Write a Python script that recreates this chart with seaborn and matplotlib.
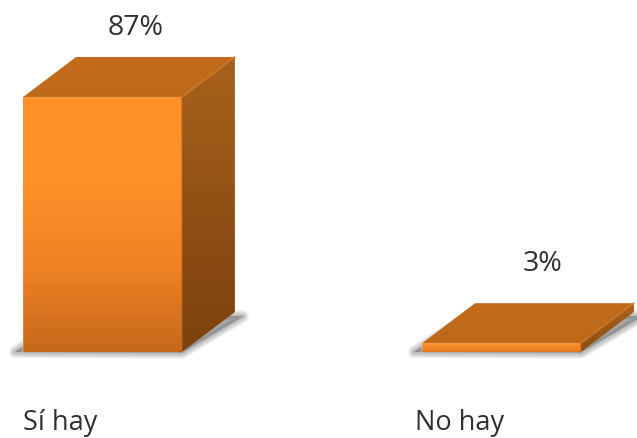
import numpy as np
import pandas as pd
import seaborn as sns
import matplotlib
matplotlib.use("Agg")
import matplotlib.pyplot as plt
from matplotlib.colors import LinearSegmentedColormap as LSC
from matplotlib.patches import Polygon
from matplotlib.transforms import ScaledTranslation

categories = ["Sí hay", "No hay"]
values = [87, 3]

W, H = 637, 439
DPI = 100
sns.set_theme(style="white")
plt.rcParams["font.family"] = ["Open Sans", "DejaVu Sans"]

fig = plt.figure(figsize=(W / DPI, H / DPI), dpi=DPI)
ax = fig.add_axes([0, 86 / H, 1, 353 / H])
df = pd.DataFrame({"cat": categories, "val": values})
sns.barplot(data=df, x="cat", y="val", color="#F08424", width=0.398, ax=ax,
            saturation=1, errorbar=None)

px_x = 399.0          # pixels per category step
px_y = 255.0 / 87.0   # pixels per percent
ax.set_xlim(-102.5 / px_x, (W - 102.5) / px_x)
ax.set_ylim(0, 353 / px_y)
dx, dy = 53 / px_x, 40 / px_y


def gradient(colors, poly, zorder):
    xs, ys = zip(*poly)
    cmap = LSC.from_list("g", colors)
    g = np.linspace(0, 1, 128).reshape(-1, 1)
    im = ax.imshow(g, cmap=cmap, aspect="auto",
                   extent=(min(xs), max(xs), min(ys), max(ys)), zorder=zorder,
                   interpolation="bilinear")
    im.set_clip_path(Polygon(poly, closed=True, transform=ax.transData))
    return im


front_cols = [["#FF9027", "#FF8F27", "#F08224", "#C6681B"],
              ["#FF9430", "#FA8A28", "#F08226", "#D87620"]]
side_cols = [["#A8611B", "#9A5717", "#8A4B12", "#7E4210"],
             ["#A8621C", "#8C4E14"]]
top_cols = [["#C46C1C", "#BE691A"], ["#C26B1B", "#BE691A"]]

for i, p in enumerate(ax.patches):
    x0, w, h = p.get_x(), p.get_width(), p.get_height()
    x1 = x0 + w
    front = [(x0, 0), (x1, 0), (x1, h), (x0, h)]
    side = [(x1, 0), (x1 + dx, dy), (x1 + dx, h + dy), (x1, h)]
    top = [(x0, h), (x1, h), (x1 + dx, h + dy), (x0 + dx, h + dy)]
    floor = [(x0 - 0.02, 0.0), (x1, -0.2), (x1 + dx + 0.02, dy - 1.5),
             (x0 + dx, dy)]

    # soft shadow on the floor
    for lw in np.linspace(0.5, 9, 10):
        ax.add_patch(Polygon(floor, closed=True, facecolor="#666666",
                             edgecolor="#666666", linewidth=lw, alpha=0.06,
                             joinstyle="round", zorder=1, clip_on=False))

    gradient(side_cols[i], side, 3)
    gradient(top_cols[i], top, 3)
    gradient(front_cols[i], front, 4)
    p.set_zorder(2)

    # small bevels
    ax.plot([x1, x1 + dx], [h, h + dy], color="#CE7824", lw=1.6, alpha=0.6,
            zorder=5, solid_capstyle="round")
    ax.plot([x0, x0, x1], [0, h, h], color="#E89A50", lw=1.0, alpha=0.6,
            zorder=5)
    ax.plot([x1, x1], [0, h], color="#B8651C", lw=1.2, alpha=0.6, zorder=5)

ax.set_xlim(-102.5 / px_x, (W - 102.5) / px_x)
ax.set_ylim(0, 353 / px_y)

# value labels
label_offsets = [(33.5, 70), (41, 80)]
for p, v, (ox, oy) in zip(ax.patches, values, label_offsets):
    ax.annotate(f"{v}%", (p.get_x() + p.get_width() / 2, p.get_height()),
                xytext=(ox * 72 / DPI, oy * 72 / DPI), textcoords="offset points",
                ha="center", va="center", fontsize=20.5, color="#303030",
                annotation_clip=False, zorder=6)

# category labels
ax.set_xlabel("")
ax.set_ylabel("")
ax.set_yticks([])
ax.set_xticks(range(len(categories)))
ax.set_xticklabels(categories, fontsize=19.5, color="#303030")
ax.tick_params(axis="x", length=0, pad=40)
shift = ScaledTranslation(-42 / DPI, 0, fig.dpi_scale_trans)
for t in ax.get_xticklabels():
    t.set_transform(t.get_transform() + shift)
sns.despine(ax=ax, left=True, bottom=True)

fig.savefig("out.png", dpi=DPI, facecolor="white")
